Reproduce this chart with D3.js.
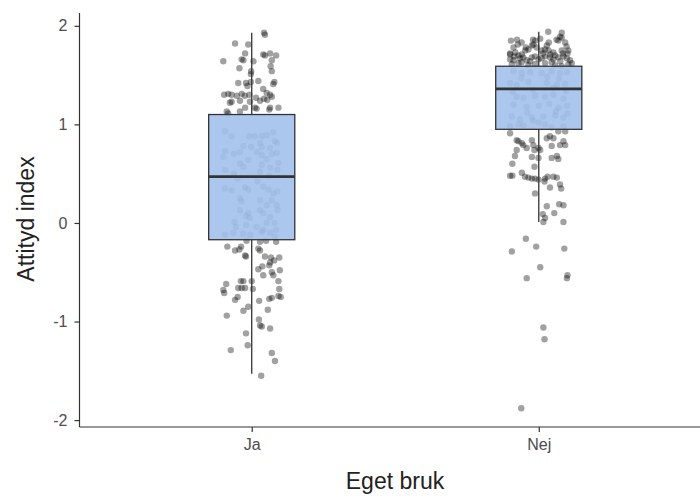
<!DOCTYPE html>
<html><head><meta charset="utf-8">
<script src="https://cdn.jsdelivr.net/npm/d3@7"></script>
<style>body{margin:0;background:#fff}svg{display:block}</style>
</head><body>
<script>
const categories = ["Ja", "Nej"];
const yTicks = [-2, -1, 0, 1, 2];
const xTitle = "Eget bruk";
const yTitle = "Attityd index";
// box stats: [whiskerLow, q1, median, q3, whiskerHigh]
const boxJa = [-1.53, -0.17, 0.47, 1.10, 1.93];
const boxNej = [0.01, 0.95, 1.36, 1.59, 1.94];
// jittered points: [jitter offset (category units), value]
const pointsJa = [
[.043,1.93],[.046,1.91],[-.058,1.82],[-.012,1.81],[-.023,1.72],[-.099,1.64],[-.035,1.66],[-.029,1.65],[.006,1.64],
[.04,1.71],[.064,1.72],[.046,1.70],[.085,1.70],[.07,1.65],[.066,1.59],[.07,1.54],[-.043,1.57],[-.002,1.54],[-.003,1.51],
[.023,1.44],[.079,1.43],[.075,1.41],[-.047,1.42],[-.02,1.42],[-.015,1.39],[-.003,1.43],[.04,1.36],
[-.096,1.30],[-.082,1.31],[-.07,1.30],[-.052,1.29],[-.035,1.31],[-.024,1.29],[-.008,1.30],
[.052,1.32],[.064,1.30],[.07,1.28],[.054,1.25],[.015,1.27],[.029,1.24],[.043,1.26],
[-.07,1.23],[-.076,1.22],[-.041,1.24],[-.006,1.23],
[-.023,1.17],[.011,1.17],[.017,1.16],[.064,1.17],[.093,1.17],[-.087,1.13],[-.082,1.11],[-.041,1.13],[.061,1.15],
[-.093,.93],[-.07,.88],[-.008,.88],[.011,.88],[.035,.88],[.052,.89],[.075,.92],
[.029,.81],[.081,.83],[.089,.81],[-.029,.78],[-.002,.77],[.035,.77],[.064,.76],
[-.093,.73],[-.062,.70],[-.041,.72],[.017,.72],[.035,.69],[.07,.70],[.087,.71],
[-.099,.67],[-.012,.64],[.052,.65],[.093,.61],[-.041,.60],[-.029,.57],[.035,.59],[.064,.56],[.089,.54],[-.093,.54],
[.029,.52],[-.062,.50],[-.05,.45],[.06,.48],[.02,.42],
[-.093,.35],[-.07,.33],[-.023,.36],[-.012,.34],[.04,.37],[.058,.34],[.075,.30],[.089,.32],
[-.041,.25],[-.035,.22],[.029,.23],[.07,.23],[.087,.18],[.052,.18],
[-.041,.13],[-.012,.10],[-.02,.07],[-.008,.05],[.029,.13],[.04,.10],[.064,.06],[.09,.13],
[-.06,.01],[-.055,-.04],[-.02,-.02],[.017,-.04],[.052,.0],[.08,.0],[.085,-.07],[.04,-.07],
[-.093,-.12],[-.064,-.10],[-.03,-.11],[-.005,-.12],[.035,-.09],[.064,-.10],[.08,-.14],
[-.085,-.24],[-.058,-.28],[-.043,-.27],[-.037,-.24],[-.023,-.33],[-.02,-.34],[.023,-.26],[.029,-.28],
[.046,-.34],[.067,-.35],[.078,-.38],[.096,-.35],[.064,-.40],[.061,-.43],
[.023,-.47],[.037,-.44],[.04,-.53],[.07,-.50],[.075,-.53],[.098,-.48],
[.029,-.19],[.05,-.18],[.085,-.19],[-.018,-.18],
[-.089,-.62],[-.038,-.59],[-.029,-.59],[0,-.59],
[-.099,-.68],[-.096,-.71],[-.047,-.66],[-.035,-.66],[-.023,-.66],[.004,-.67],
[.093,-.59],[.096,-.67],[.093,-.74],[.101,-.75],[.07,-.76],[.061,-.77],
[-.049,-.75],[-.058,-.78],[.026,-.79],[-.012,-.85],[-.029,-.89],[.056,-.88],[-.087,-.94],
[.025,-.98],[.029,-1.04],[.035,-1.05],[.064,-1.07],[-.02,-1.12],[-.014,-1.24],[-.073,-1.29],
[.07,-1.32],[.081,-1.40],[.033,-1.55]
];
const pointsNej = [
[.033,1.94],[-.097,1.85],[-.076,1.86],[-.073,1.81],[-.088,1.78],[-.024,1.80],[-.019,1.81],[-.036,1.76],
[.01,1.75],[.022,1.76],[.028,1.80],[.034,1.75],[.062,1.86],[.068,1.85],[.08,1.88],[.092,1.83],[.097,1.79],
[.103,1.75],[.08,1.75],[.051,1.73],[.057,1.70],[-.1,1.71],[-.082,1.73],[-.071,1.70],[-.059,1.71],[-.047,1.75],
[-.1,1.66],[-.088,1.65],[-.065,1.67],[-.054,1.68],[-.042,1.65],[-.024,1.68],[-.013,1.69],[-.001,1.66],
[.01,1.67],[.022,1.69],[.039,1.68],[.051,1.66],[.068,1.68],[.086,1.69],[.098,1.67],[.109,1.65],
[-.094,1.61],[-.071,1.62],[-.036,1.60],[-.013,1.61],[.022,1.62],[.057,1.60],[.08,1.59],[.103,1.61],[.115,1.62],
[-.012,1.85],[-.007,1.78],[.08,1.93],[.074,1.89],[-.02,1.86],[.005,1.87],[-.1,1.72],[.084,1.72],[.1,1.72],
[-.06,1.63],[-.03,1.64],[.045,1.63],[.075,1.64],[-.085,1.69],[.015,1.72],[.04,1.71],[-.045,1.78],[.035,1.83],[-.06,1.83],
[-.088,1.54],[-.059,1.52],[-.03,1.53],[.01,1.52],[.045,1.54],[.074,1.52],[.098,1.53],
[-.06,1.47],[.03,1.48],[.07,1.46],
[-.1,1.42],[-.077,1.40],[-.036,1.43],[.028,1.42],[.063,1.40],[.092,1.41],
[-.02,1.35],[.05,1.37],[-.09,1.33],[.095,1.34],
[-.077,1.28],[-.053,1.27],[-.013,1.29],[.022,1.28],[.051,1.30],[.086,1.26],
[-.088,1.20],[-.042,1.18],[0,1.19],[.036,1.21],[.07,1.17],[.098,1.19],
[-.04,1.12],[.06,1.13],[.1,1.11],
[-.094,1.08],[-.065,1.05],[-.024,1.07],[-.019,1.04],[.016,1.08],[.057,1.09],[.086,1.07],
[0,1.02],[-.07,1.00],
[-.1,.98],[-.053,.99],[.022,1.00],[.045,.97],[.086,.98],
[-.1,.91],[-.077,.84],[-.071,.83],[-.059,.81],[-.054,.79],[-.042,.76],[-.024,.84],[-.019,.79],[-.015,.74],
[-.001,.76],[.005,.74],[.028,.86],[.039,.88],[.051,.86],[.045,.78],[.074,.79],[.086,.83],[.092,.79],[.068,.93],[.092,.93],
[-.077,.74],[-.083,.68],[-.024,.67],[-.001,.66],[.045,.66],[.063,.68],[.068,.65],
[-.092,.60],[-.015,.57],
[-.1,.48],[-.092,.48],[-.059,.51],[-.048,.47],[-.036,.46],[-.024,.45],[-.013,.45],[-.001,.44],[.02,.42],
[.031,.47],[.051,.47],[.063,.46],[.074,.39],[.078,.35],[.022,.45],[.039,.36],[-.013,.30],
[.028,.17],[.071,.19],[.086,.18],[.054,.10],[.014,.09],[.022,.05],[.086,.01],[.016,.01],
[-.045,-.16],[-.009,-.24],[-.094,-.29],[.089,-.26],[.005,-.45],[-.042,-.56],[.1,-.53],[.098,-.56],
[.016,-1.06],[.02,-1.18],[-.061,-1.88]
];

const W = 700, H = 498;
const FONT = "'Liberation Sans', Arial, sans-serif";
const svg = d3.select("body").append("svg").attr("width", W).attr("height", H);

const x = d3.scaleLinear().domain([0.4, 2.6]).range([79.5, 711]);
const y = d3.scaleLinear().domain([-2.07, 2.13]).range([427, 13]);
const boxHalf = 0.15;

const groups = [
  {cat: categories[0], idx: 1, box: boxJa, pts: pointsJa},
  {cat: categories[1], idx: 2, box: boxNej, pts: pointsNej}
];

// points
const gp = svg.append("g");
groups.forEach(g => {
  gp.selectAll(null).data(g.pts).enter().append("circle")
    .attr("cx", d => x(g.idx + d[0]))
    .attr("cy", d => y(d[1]))
    .attr("r", 3.2)
    .attr("fill", "#000")
    .attr("fill-opacity", 0.37);
});

// boxes
const gb = svg.append("g");
groups.forEach(g => {
  const [lo, q1, med, q3, hi] = g.box;
  const cx = x(g.idx);
  gb.append("line").attr("x1", cx).attr("x2", cx).attr("y1", y(q3)).attr("y2", y(hi))
    .attr("stroke", "#333").attr("stroke-width", 1.3);
  gb.append("line").attr("x1", cx).attr("x2", cx).attr("y1", y(q1)).attr("y2", y(lo))
    .attr("stroke", "#333").attr("stroke-width", 1.3);
  gb.append("rect")
    .attr("x", x(g.idx - boxHalf)).attr("width", x(g.idx + boxHalf) - x(g.idx - boxHalf))
    .attr("y", y(q3)).attr("height", y(q1) - y(q3))
    .attr("fill", "rgb(163,193,236)").attr("fill-opacity", 0.9)
    .attr("stroke", "#333").attr("stroke-width", 1.3);
  gb.append("line").attr("x1", x(g.idx - boxHalf)).attr("x2", x(g.idx + boxHalf))
    .attr("y1", y(med)).attr("y2", y(med))
    .attr("stroke", "#333").attr("stroke-width", 2.6);
});

// axes
const yAxis = d3.axisLeft(y).tickValues(yTicks).tickSize(5).tickPadding(7).tickFormat(d => String(d));
const gy = svg.append("g").attr("transform", "translate(79.5,0)").call(yAxis);
gy.select(".domain").attr("d", `M0,${y.range()[1]}V${y.range()[0]}`);
const xAxis = d3.axisBottom(x).tickValues([1, 2]).tickSize(5).tickPadding(7).tickFormat(d => categories[d - 1]);
const gx = svg.append("g").attr("transform", "translate(0,427)").call(xAxis);
gx.select(".domain").attr("d", `M79.5,0H${W}`);
[gx, gy].forEach(g => {
  g.select(".domain").attr("stroke", "#333").attr("stroke-width", 1.2);
  g.selectAll(".tick line").attr("stroke", "#333").attr("stroke-width", 1.2);
  g.selectAll(".tick text").attr("fill", "#4d4d4d").attr("font-size", 16)
    .attr("font-family", FONT);
});

svg.append("text").attr("x", 395).attr("y", 489).attr("text-anchor", "middle")
  .attr("font-family", FONT).attr("font-size", 23)
  .attr("fill", "#222").text(xTitle);
svg.append("text").attr("transform", "translate(26,219) rotate(-90)").attr("text-anchor", "middle")
  .attr("dy", "0.35em")
  .attr("font-family", FONT).attr("font-size", 23)
  .attr("fill", "#222").text(yTitle);
</script>
</body></html>
